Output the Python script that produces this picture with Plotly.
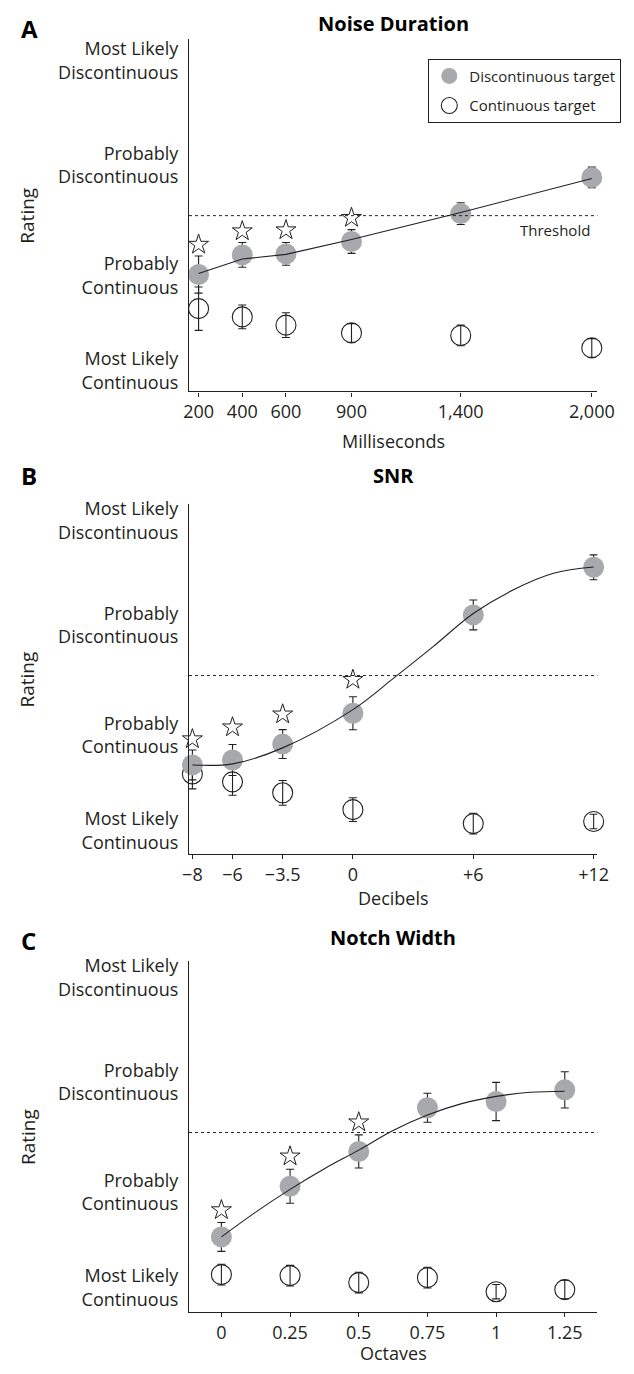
import plotly.graph_objects as go

# The page adds an 8 px body margin on every side; the figure is sized so the page
# fits the 634x1374 window exactly, and laid out in screen pixels minus that margin.
OFF = 8
W, H = 634 - 2 * OFF, 1374 - 2 * OFF

# ---------------- data (ratings: 1 = Most Likely Continuous ... 4 = Most Likely Discontinuous)
rating_tickvals = [1, 1.92, 2.99, 4]
rating_ticktext = ["Most Likely<br>Continuous", "Probably<br>Continuous",
                   "Probably<br>Discontinuous", "Most Likely<br>Discontinuous"]
threshold = 2.5

# Panel A: Noise Duration
dur_ms = [200, 400, 600, 900, 1400, 2000]
dur_ticktext = ["200", "400", "600", "900", "1,400", "2,000"]
dur_disc = [1.93, 2.12, 2.13, 2.25, 2.52, 2.87]
dur_disc_err = [0.18, 0.12, 0.11, 0.115, 0.105, 0.10]
dur_cont = [1.60, 1.52, 1.44, 1.365, 1.34, 1.22]
dur_cont_err = [0.21, 0.115, 0.12, 0.09, 0.10, 0.09]
dur_star_x = [200, 400, 600, 900]
dur_star_y = [2.22, 2.35, 2.36, 2.48]
dur_fit_x = [200, 400, 600, 900, 1400, 2000]
dur_fit_y = [1.94, 2.08, 2.125, 2.27, 2.53, 2.86]

# Panel B: SNR
snr_db = [-8, -6, -3.5, 0, 6, 12]
snr_ticktext = ["\u22128", "\u22126", "\u22123.5", "0", "+6", "+12"]
snr_disc = [1.635, 1.683, 1.837, 2.135, 3.087, 3.548]
snr_disc_err = [0.145, 0.15, 0.14, 0.16, 0.145, 0.12]
snr_cont = [1.548, 1.471, 1.365, 1.202, 1.067, 1.087]
snr_cont_err = [0.145, 0.13, 0.12, 0.115, 0.10, 0.07]
snr_star_x = [-8, -6, -3.5, 0]
snr_star_y = [1.885, 2.0, 2.125, 2.46]
snr_fit_x = [-8, -6, -3.5, 0, 2, 4, 6, 8, 10, 12]
snr_fit_y = [1.635, 1.645, 1.80, 2.17, 2.47, 2.78, 3.10, 3.33, 3.49, 3.55]

# Panel C: Notch Width
notch_oct = [0, 0.25, 0.5, 0.75, 1, 1.25]
notch_ticktext = ["0", "0.25", "0.5", "0.75", "1", "1.25"]
notch_disc = [1.49, 1.98, 2.317, 2.74, 2.80, 2.913]
notch_disc_err = [0.14, 0.165, 0.16, 0.14, 0.185, 0.175]
notch_cont = [1.125, 1.115, 1.048, 1.096, 0.96, 0.98]
notch_cont_err = [0.10, 0.10, 0.10, 0.10, 0.07, 0.09]
notch_star_x = [0, 0.25, 0.5]
notch_star_y = [1.75, 2.27, 2.60]
notch_fit_x = [0, 0.125, 0.25, 0.375, 0.5, 0.625, 0.75, 0.875, 1.0, 1.125, 1.25]
notch_fit_y = [1.49, 1.73, 1.95, 2.15, 2.33, 2.52, 2.67, 2.78, 2.85, 2.89, 2.90]

# ---------------- styling / layout helpers
FONT = "Open Sans"
GRAY = "#a7a9ac"
DARK = "#231f20"


def pxx(p):
    return (p - OFF) / W


def pyy(p):
    return 1 - (p - OFF) / H


panels = [
    dict(letter="A", title="Noise Duration", xtitle="Milliseconds",
         x=dur_ms, ticktext=dur_ticktext, disc=dur_disc, disc_err=dur_disc_err,
         cont=dur_cont, cont_err=dur_cont_err, sx=dur_star_x, sy=dur_star_y,
         fx=dur_fit_x, fy=dur_fit_y, fit_shape="linear",
         xrange=[156, 2026], yrange=[0.798, 4.2115], top=32, bottom=387,
         letter_y=22, title_y=17, xtitle_y=437),
    dict(letter="B", title="SNR", xtitle="Decibels",
         x=snr_db, ticktext=snr_ticktext, disc=snr_disc, disc_err=snr_disc_err,
         cont=snr_cont, cont_err=snr_cont_err, sx=snr_star_x, sy=snr_star_y,
         fx=snr_fit_x, fy=snr_fit_y, fit_shape="spline",
         xrange=[-8.17, 12.19], yrange=[0.769, 4.163], top=500, bottom=853,
         letter_y=472, title_y=472, xtitle_y=897),
    dict(letter="C", title="Notch Width", xtitle="Octaves",
         x=notch_oct, ticktext=notch_ticktext, disc=notch_disc, disc_err=notch_disc_err,
         cont=notch_cont, cont_err=notch_cont_err, sx=notch_star_x, sy=notch_star_y,
         fx=notch_fit_x, fy=notch_fit_y, fit_shape="spline",
         xrange=[-0.118, 1.369], yrange=[0.760, 4.163], top=960, bottom=1314,
         letter_y=940, title_y=937, xtitle_y=1355),
]

fig = go.Figure()
layout = dict(
    width=W, height=H,
    margin=dict(l=0, r=0, t=0, b=0),
    paper_bgcolor="white", plot_bgcolor="white",
    font=dict(family=FONT, size=18, color=DARK),
    showlegend=True,
    legend=dict(x=pxx(438), y=pyy(52), xanchor="left", yanchor="top",
                bordercolor=DARK, borderwidth=1, bgcolor="white",
                font=dict(family=FONT, size=15, color=DARK),
                tracegroupgap=7, itemsizing="trace"),
)
annotations = []
shapes = []
xdom = [pxx(189), pxx(614)]

for i, p in enumerate(panels):
    n = "" if i == 0 else str(i + 1)
    xa, ya = "x" + n, "y" + n
    first = i == 0
    # continuous target (open)
    fig.add_trace(go.Scatter(
        x=p["x"], y=p["cont"], mode="markers", xaxis=xa, yaxis=ya, cliponaxis=False,
        name="Continuous target", legendgroup="cont", legendrank=2, showlegend=first,
        marker=dict(symbol="circle-open", size=20, color=DARK, line=dict(width=1.1, color=DARK)),
        error_y=dict(type="data", array=p["cont_err"], color=DARK, thickness=1.1, width=4),
    ))
    # discontinuous target (gray)
    fig.add_trace(go.Scatter(
        x=p["x"], y=p["disc"], mode="markers", xaxis=xa, yaxis=ya, cliponaxis=False,
        name="Discontinuous target", legendgroup="disc", legendrank=1, showlegend=first,
        marker=dict(symbol="circle", size=21, color=GRAY, line=dict(width=0)),
        error_y=dict(type="data", array=p["disc_err"], color=DARK, thickness=1.1, width=4),
    ))
    # fitted curve
    fig.add_trace(go.Scatter(
        x=p["fx"], y=p["fy"], mode="lines", xaxis=xa, yaxis=ya, showlegend=False,
        cliponaxis=False, line=dict(color=DARK, width=1.1, shape=p["fit_shape"]),
        hoverinfo="skip",
    ))
    # significance stars
    fig.add_trace(go.Scatter(
        x=p["sx"], y=p["sy"], mode="markers", xaxis=xa, yaxis=ya, showlegend=False,
        cliponaxis=False,
        marker=dict(symbol="star-open", size=15, color=DARK, line=dict(width=1)),
    ))

    layout["xaxis" + n] = dict(
        domain=xdom, anchor=ya, range=p["xrange"],
        tickmode="array", tickvals=p["x"], ticktext=p["ticktext"],
        ticks="outside", ticklen=4, tickwidth=1, tickcolor=DARK,
        showline=True, linecolor=DARK, linewidth=1.2,
        showgrid=False, zeroline=False,
        tickfont=dict(family=FONT, size=18, color=DARK),
    )
    layout["yaxis" + n] = dict(
        domain=[pyy(p["bottom"]), pyy(p["top"])], anchor=xa, range=p["yrange"],
        tickmode="array", tickvals=rating_tickvals, ticktext=rating_ticktext,
        ticks="", showline=True, linecolor=DARK, linewidth=1.2,
        showgrid=False, zeroline=False, ticklabelstandoff=6,
        tickfont=dict(family=FONT, size=18, color=DARK),
    )
    # threshold line
    shapes.append(dict(type="line", xref=xa + " domain", yref=ya,
                       x0=0, x1=1, y0=threshold, y1=threshold,
                       line=dict(color=DARK, width=1, dash="dot")))
    # panel letter
    annotations.append(dict(text="<b>%s</b>" % p["letter"], xref="paper", yref="paper",
                            x=pxx(12), y=pyy(p["letter_y"]), xanchor="left", yanchor="middle",
                            showarrow=False, font=dict(family=FONT, size=24, color="black")))
    # title
    annotations.append(dict(text="<b>%s</b>" % p["title"], xref=xa + " domain", yref="paper",
                            x=0.5, y=pyy(p["title_y"]), xanchor="center", yanchor="middle",
                            showarrow=False, font=dict(family=FONT, size=20, color="black")))
    # x title
    annotations.append(dict(text=p["xtitle"], xref=xa + " domain", yref="paper",
                            x=0.5, y=pyy(p["xtitle_y"]), xanchor="center", yanchor="middle",
                            showarrow=False, font=dict(family=FONT, size=18, color=DARK)))
    # y title
    annotations.append(dict(text="Rating", xref="paper", yref="paper", textangle=-90,
                            x=pxx(21), y=pyy((p["top"] + p["bottom"]) / 2),
                            xanchor="center", yanchor="middle",
                            showarrow=False, font=dict(family=FONT, size=19, color=DARK)))

# threshold label (panel A only)
annotations.append(dict(text="Threshold", xref="x domain", yref="y",
                        x=0.986, y=2.36, xanchor="right", yanchor="middle",
                        showarrow=False, font=dict(family=FONT, size=15, color=DARK)))

layout["annotations"] = annotations
layout["shapes"] = shapes
fig.update_layout(**layout)
fig.write_html("out.html")
